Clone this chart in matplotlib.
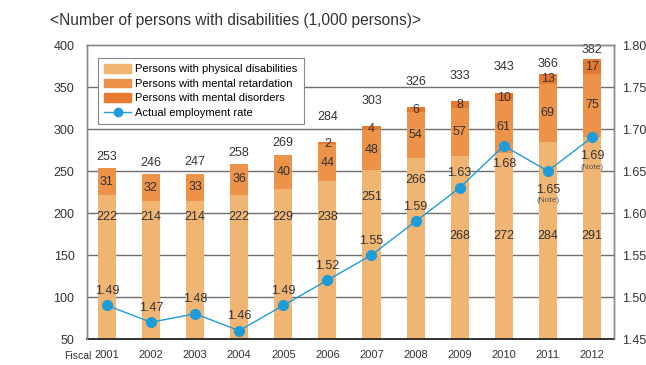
import matplotlib
matplotlib.use("Agg")
import matplotlib.pyplot as plt
from matplotlib.patches import Patch
from matplotlib.lines import Line2D
import numpy as np

plt.rcParams['font.family'] = ['Liberation Sans Narrow', 'Liberation Sans', 'DejaVu Sans']

years = ['2001', '2002', '2003', '2004', '2005', '2006', '2007', '2008', '2009', '2010', '2011', '2012']
physical = [222, 214, 214, 222, 229, 238, 251, 266, 268, 272, 284, 291]
retardation = [31, 32, 33, 36, 40, 44, 48, 54, 57, 61, 69, 75]
disorders = [0, 0, 0, 0, 0, 2, 4, 6, 8, 10, 13, 17]
totals = [253, 246, 247, 258, 269, 284, 303, 326, 333, 343, 366, 382]
rate = [1.49, 1.47, 1.48, 1.46, 1.49, 1.52, 1.55, 1.59, 1.63, 1.68, 1.65, 1.69]
rate_notes = ['', '', '', '', '', '', '', '', '', '', '(Note)', '(Note)']
rate_below = [False] * 9 + [True, True, True]
phys_label_y = [195, 195, 195, 195, 195, 195, 219, 239, 173, 173, 173, 173]

c_phys = '#F0B473'
c_ret = '#EC9249'
c_dis = '#E87A30'
c_line = '#1F9CD8'
txt = '#333333'

fig = plt.figure(figsize=(6.46, 3.65), dpi=100)
ax = fig.add_axes([0.1347, 0.0712, 0.8158, 0.8055])
ax2 = ax.twinx()

x = np.arange(len(years))
w = 0.41
phys = np.array(physical)
ret = np.array(retardation)
dis = np.array(disorders)
ax.bar(x, phys, w, color=c_phys, zorder=2)
ax.bar(x, ret, w, bottom=phys, color=c_ret, zorder=2)
ax.bar(x, dis, w, bottom=phys + ret, color=c_dis, zorder=2)

ax.set_ylim(50, 400)
ax.set_xlim(-0.45, 11.5)
ax.set_yticks(range(50, 401, 50))
for yv in range(100, 351, 50):
    ax.axhline(yv, color='#6f6f6f', lw=1.0, zorder=1)

fs = 9
for i in range(len(years)):
    ax.text(x[i], phys_label_y[i], str(physical[i]), ha='center', va='center', fontsize=fs, color=txt, zorder=4)
    ax.text(x[i], phys[i] + ret[i] / 2, str(retardation[i]), ha='center', va='center', fontsize=fs, color=txt, zorder=4)
    top = phys[i] + ret[i] + dis[i]
    if dis[i] > 0:
        ax.text(x[i], top - dis[i] / 2 - 0.5, str(disorders[i]), ha='center', va='center', fontsize=fs, color=txt, zorder=4)
        off = 14 if dis[i] <= 10 else 2.5
    else:
        off = 4
    ax.annotate(str(totals[i]), (x[i], top), xytext=(0, off), textcoords='offset points',
                ha='center', va='bottom', fontsize=fs, color=txt, zorder=4)

ax2.plot(x, rate, color=c_line, lw=1.0, marker='o', ms=7, mec=c_line, mfc=c_line, zorder=5)
ax2.set_ylim(1.45, 1.80)
ticks2 = np.arange(1.45, 1.801, 0.05)
ax2.set_yticks(ticks2)
ax2.set_yticklabels(['%.2f' % v for v in ticks2])
for i in range(len(years)):
    if rate_below[i]:
        ax2.annotate('%.2f' % rate[i], (x[i], rate[i]), xytext=(0, -9), textcoords='offset points',
                     ha='center', va='top', fontsize=fs, color=txt, zorder=6)
        if rate_notes[i]:
            ax2.annotate(rate_notes[i], (x[i], rate[i]), xytext=(0, -19), textcoords='offset points',
                         ha='center', va='top', fontsize=6, color='#555555', zorder=6)
    else:
        ax2.annotate('%.2f' % rate[i], (x[i], rate[i]), xytext=(0, 6), textcoords='offset points',
                     ha='center', va='bottom', fontsize=fs, color=txt, zorder=6)

ax.set_xticks(x)
ax.set_xticklabels(years)
for a in (ax, ax2):
    a.tick_params(length=0, labelsize=9, colors=txt)
    for s in a.spines.values():
        s.set_color('#888888')
        s.set_linewidth(1.0)
ax.spines['bottom'].set_color('#222222')
ax.spines['bottom'].set_linewidth(1.3)
ax2.spines['bottom'].set_visible(False)
ax.tick_params(axis='x', pad=8, labelsize=8)
ax.tick_params(axis='y', pad=9)
ax2.tick_params(axis='y', pad=6)

fig.text(0.099, 0.025, 'Fiscal', fontsize=7.5, color=txt, ha='left', va='center')
fig.text(0.077, 0.943, '<Number of persons with disabilities (1,000 persons)>', fontsize=11.2,
         color=txt, ha='left', va='center')

handles = [Patch(color=c_phys), Patch(color=c_ret), Patch(color=c_dis),
           Line2D([0], [0], color=c_line, lw=1, marker='o', ms=6, mfc=c_line, mec=c_line)]
labels = ['Persons with physical disabilities', 'Persons with mental retardation',
          'Persons with mental disorders', 'Actual employment rate']
leg = ax2.legend(handles, labels, loc='upper left', bbox_to_anchor=(0.021, 0.956), fontsize=8,
                 frameon=True, fancybox=False, edgecolor='#888888', framealpha=1,
                 handlelength=2.4, handleheight=0.8, labelspacing=0.4, borderpad=0.55,
                 handletextpad=0.4, borderaxespad=0)
leg.get_frame().set_linewidth(0.8)
leg.set_zorder(10)

fig.savefig('out.png', dpi=100)
